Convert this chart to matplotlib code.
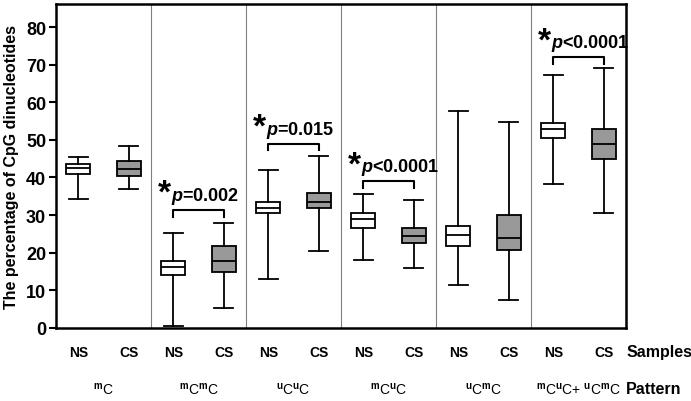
import matplotlib
matplotlib.use("Agg")
import matplotlib.pyplot as plt
import matplotlib.transforms as mtransforms

# --- data ---
patterns = [r"$^{\mathrm{m}}$C", r"$^{\mathrm{m}}$C$^{\mathrm{m}}$C", r"$^{\mathrm{u}}$C$^{\mathrm{u}}$C",
            r"$^{\mathrm{m}}$C$^{\mathrm{u}}$C", r"$^{\mathrm{u}}$C$^{\mathrm{m}}$C",
            r"$^{\mathrm{m}}$C$^{\mathrm{u}}$C+ $^{\mathrm{u}}$C$^{\mathrm{m}}$C"]
samples = ["NS", "CS"]

ns_low = [34.2, 0.6, 13.0, 18.0, 11.3, 38.3]
ns_q1 = [41.0, 14.0, 30.5, 26.5, 21.7, 50.5]
ns_med = [42.5, 16.1, 32.0, 29.0, 24.8, 52.9]
ns_q3 = [43.5, 17.7, 33.5, 30.5, 27.2, 54.4]
ns_high = [45.5, 25.2, 42.0, 35.5, 57.8, 67.2]

cs_low = [37.0, 5.2, 20.5, 16.0, 7.3, 30.5]
cs_q1 = [40.5, 14.8, 32.0, 22.5, 20.7, 45.0]
cs_med = [42.3, 17.8, 33.5, 24.5, 23.9, 48.9]
cs_q3 = [44.3, 21.9, 36.0, 26.5, 30.1, 53.0]
cs_high = [48.5, 28.0, 45.7, 34.0, 54.7, 69.0]

# significance: panel index, p-value text, bracket height
sig_panel = [1, 2, 3, 5]
sig_text = ["=0.002", "=0.015", "<0.0001", "<0.0001"]
sig_height = [31.4, 49.0, 39.0, 72.0]

plt.rcParams["mathtext.fontset"] = "custom"
plt.rcParams["mathtext.rm"] = "Liberation Sans:bold"
plt.rcParams["mathtext.it"] = "Liberation Sans:italic:bold"
plt.rcParams["font.family"] = ["Liberation Sans", "DejaVu Sans"]

fig = plt.figure(figsize=(6.91, 4.02), dpi=100)
ax = fig.add_axes([0.081, 0.182, 0.825, 0.806])

pos_ns = [i + 0.235 for i in range(6)]
pos_cs = [i + 0.765 for i in range(6)]

stats_ns = [dict(whislo=ns_low[i], q1=ns_q1[i], med=ns_med[i], q3=ns_q3[i], whishi=ns_high[i], fliers=[])
            for i in range(6)]
stats_cs = [dict(whislo=cs_low[i], q1=cs_q1[i], med=cs_med[i], q3=cs_q3[i], whishi=cs_high[i], fliers=[])
            for i in range(6)]

line = dict(color="black", linewidth=1.3)
common = dict(widths=0.25, capwidths=0.2, patch_artist=True, showfliers=False,
              whiskerprops=line, capprops=line, medianprops=line)
ax.bxp(stats_ns, positions=pos_ns, boxprops=dict(facecolor="white", edgecolor="black", linewidth=1.3), **common)
ax.bxp(stats_cs, positions=pos_cs, boxprops=dict(facecolor="#999999", edgecolor="black", linewidth=1.3), **common)

# panel dividers
for i in range(1, 6):
    ax.axvline(i, color="#808080", linewidth=0.8, zorder=0)

# significance brackets
for k, i in enumerate(sig_panel):
    h = sig_height[k]
    x0, x1 = pos_ns[i], pos_cs[i]
    ax.plot([x0, x0, x1, x1], [h - 1.8, h, h, h - 1.8], color="black", linewidth=1.5)
    ax.text(x0 - 0.02, h + 0.2, "*", fontsize=24, fontweight="bold", ha="right", va="bottom")
    ax.text(x0 - 0.02, h + 1.0, r"$\mathit{p}$" + sig_text[k], fontsize=13, fontweight="bold",
            ha="left", va="bottom")

ax.set_xlim(0, 6)
ax.set_ylim(0, 86.2)
ax.set_yticks(range(0, 81, 10))
ax.set_xticks([])
for lab in ax.get_yticklabels():
    lab.set_fontfamily(["Liberation Sans Narrow", "Liberation Sans", "DejaVu Sans"])
    lab.set_fontweight("bold")
    lab.set_fontsize(13)
ax.tick_params(axis="y", width=1.5, length=5, pad=2)
for s in ax.spines.values():
    s.set_linewidth(1.8)

ax.set_ylabel("The percentage of CpG dinucleotides", fontsize=11.5, fontweight="bold", labelpad=5)

trans = mtransforms.blended_transform_factory(ax.transData, ax.transAxes)
for i in range(6):
    ax.text(pos_ns[i], -0.074, samples[0], transform=trans, ha="center", va="center",
            fontsize=10, fontweight="bold")
    ax.text(pos_cs[i], -0.074, samples[1], transform=trans, ha="center", va="center",
            fontsize=10, fontweight="bold")
    ax.text(i + 0.5, -0.188, patterns[i], transform=trans, ha="center", va="center",
            fontsize=10)

ax.text(1.0, -0.074, "Samples", transform=ax.transAxes, ha="left", va="center", fontsize=11.5, fontweight="bold")
ax.text(1.0, -0.188, "Pattern", transform=ax.transAxes, ha="left", va="center", fontsize=11.5, fontweight="bold")

fig.savefig("out.png", dpi=100)
